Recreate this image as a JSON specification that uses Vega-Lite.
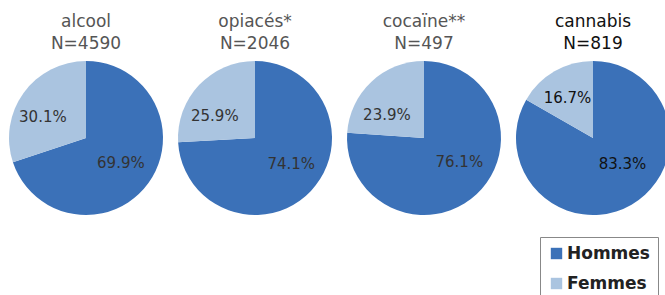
{
  "$schema": "https://vega.github.io/schema/vega-lite/v6.json",
  "autosize": {"type": "pad"},
  "padding": {"left": 9, "top": 13, "right": 0, "bottom": 0},
  "background": "white",
  "data": {"values": [
    {"drug": "alcool", "sex": "Hommes", "value": 69.9, "label": "69.9%"},
    {"drug": "alcool", "sex": "Femmes", "value": 30.1, "label": "30.1%"},
    {"drug": "opiacés", "sex": "Hommes", "value": 74.1, "label": "74.1%"},
    {"drug": "opiacés", "sex": "Femmes", "value": 25.9, "label": "25.9%"},
    {"drug": "cocaïne", "sex": "Hommes", "value": 76.1, "label": "76.1%"},
    {"drug": "cocaïne", "sex": "Femmes", "value": 23.9, "label": "23.9%"},
    {"drug": "cannabis", "sex": "Hommes", "value": 83.3, "label": "83.3%"},
    {"drug": "cannabis", "sex": "Femmes", "value": 16.7, "label": "16.7%"}
  ]},
  "spacing": 15,
  "hconcat": [
    {
      "width": 154, "height": 154,
      "title": {"text": ["alcool", "N=4590"]},
      "transform": [{"filter": "datum.drug === 'alcool'"}],
      "encoding": {
        "theta": {"field": "value", "type": "quantitative", "stack": true},
        "order": {"field": "sex", "sort": "descending"}
      },
      "layer": [
        {"mark": {"type": "arc", "outerRadius": 77},
         "encoding": {"color": {"field": "sex", "type": "nominal", "scale": {"domain": ["Hommes", "Femmes"], "range": ["#3b71b8", "#aac4e0"]},
          "legend": {"title": null, "orient": "none", "legendX": 531, "legendY": 176}}}},
        {"mark": {"type": "text", "radius": 43, "fontSize": 15},
         "encoding": {"text": {"condition": {"test": "datum.sex === 'Hommes'", "field": "label"}, "value": ""}, "color": {"value": "#333"}}},
        {"mark": {"type": "text", "radius": 47, "fontSize": 15, "dx": -5, "dy": 7},
         "encoding": {"text": {"condition": {"test": "datum.sex === 'Femmes'", "field": "label"}, "value": ""}, "color": {"value": "#333"}}}
      ]
    },
    {
      "width": 154, "height": 154,
      "title": {"text": ["opiacés*", "N=2046"]},
      "transform": [{"filter": "datum.drug === 'opiacés'"}],
      "encoding": {
        "theta": {"field": "value", "type": "quantitative", "stack": true},
        "order": {"field": "sex", "sort": "descending"}
      },
      "layer": [
        {"mark": {"type": "arc", "outerRadius": 77},
         "encoding": {"color": {"field": "sex", "type": "nominal", "scale": {"domain": ["Hommes", "Femmes"], "range": ["#3b71b8", "#aac4e0"]}}}},
        {"mark": {"type": "text", "radius": 43, "fontSize": 15, "dx": 5, "dy": -4},
         "encoding": {"text": {"condition": {"test": "datum.sex === 'Hommes'", "field": "label"}, "value": ""}, "color": {"value": "#333"}}},
        {"mark": {"type": "text", "radius": 47, "fontSize": 15, "dx": -6, "dy": 10},
         "encoding": {"text": {"condition": {"test": "datum.sex === 'Femmes'", "field": "label"}, "value": ""}, "color": {"value": "#333"}}}
      ]
    },
    {
      "width": 154, "height": 154,
      "title": {"text": ["cocaïne**", "N=497"]},
      "transform": [{"filter": "datum.drug === 'cocaïne'"}],
      "encoding": {
        "theta": {"field": "value", "type": "quantitative", "stack": true},
        "order": {"field": "sex", "sort": "descending"}
      },
      "layer": [
        {"mark": {"type": "arc", "outerRadius": 77},
         "encoding": {"color": {"field": "sex", "type": "nominal", "scale": {"domain": ["Hommes", "Femmes"], "range": ["#3b71b8", "#aac4e0"]}}}},
        {"mark": {"type": "text", "radius": 43, "fontSize": 15, "dx": 6, "dy": -7},
         "encoding": {"text": {"condition": {"test": "datum.sex === 'Hommes'", "field": "label"}, "value": ""}, "color": {"value": "#333"}}},
        {"mark": {"type": "text", "radius": 47, "fontSize": 15, "dx": -5, "dy": 11},
         "encoding": {"text": {"condition": {"test": "datum.sex === 'Femmes'", "field": "label"}, "value": ""}, "color": {"value": "#333"}}}
      ]
    },
    {
      "width": 154, "height": 154,
      "title": {"text": ["cannabis", "N=819"], "color": "#111", "fontWeight": 500},
      "transform": [{"filter": "datum.drug === 'cannabis'"}],
      "encoding": {
        "theta": {"field": "value", "type": "quantitative", "stack": true},
        "order": {"field": "sex", "sort": "descending"}
      },
      "layer": [
        {"mark": {"type": "arc", "outerRadius": 77},
         "encoding": {"color": {"field": "sex", "type": "nominal", "scale": {"domain": ["Hommes", "Femmes"], "range": ["#3b71b8", "#aac4e0"]}}}},
        {"mark": {"type": "text", "radius": 43, "fontSize": 15, "dx": 8, "dy": -11},
         "encoding": {"text": {"condition": {"test": "datum.sex === 'Hommes'", "field": "label"}, "value": ""}, "color": {"value": "#111"}}},
        {"mark": {"type": "text", "radius": 47, "fontSize": 15, "dx": -2, "dy": 1},
         "encoding": {"text": {"condition": {"test": "datum.sex === 'Femmes'", "field": "label"}, "value": ""}, "color": {"value": "#111"}}}
      ]
    }
  ],
  "config": {
    "view": {"stroke": null},
    "font": "DejaVu Sans",
    "title": {"fontSize": 17, "fontWeight": "normal", "color": "#555", "lineHeight": 22, "offset": 8, "anchor": "middle"},
    "legend": {
      "strokeColor": "#888", "padding": 8, "symbolType": "square", "symbolSize": 130, "symbolStrokeWidth": 0,
      "labelFontSize": 17, "labelFontWeight": "bold", "labelColor": "#222", "rowPadding": 12, "labelOffset": 2
    }
  }
}
